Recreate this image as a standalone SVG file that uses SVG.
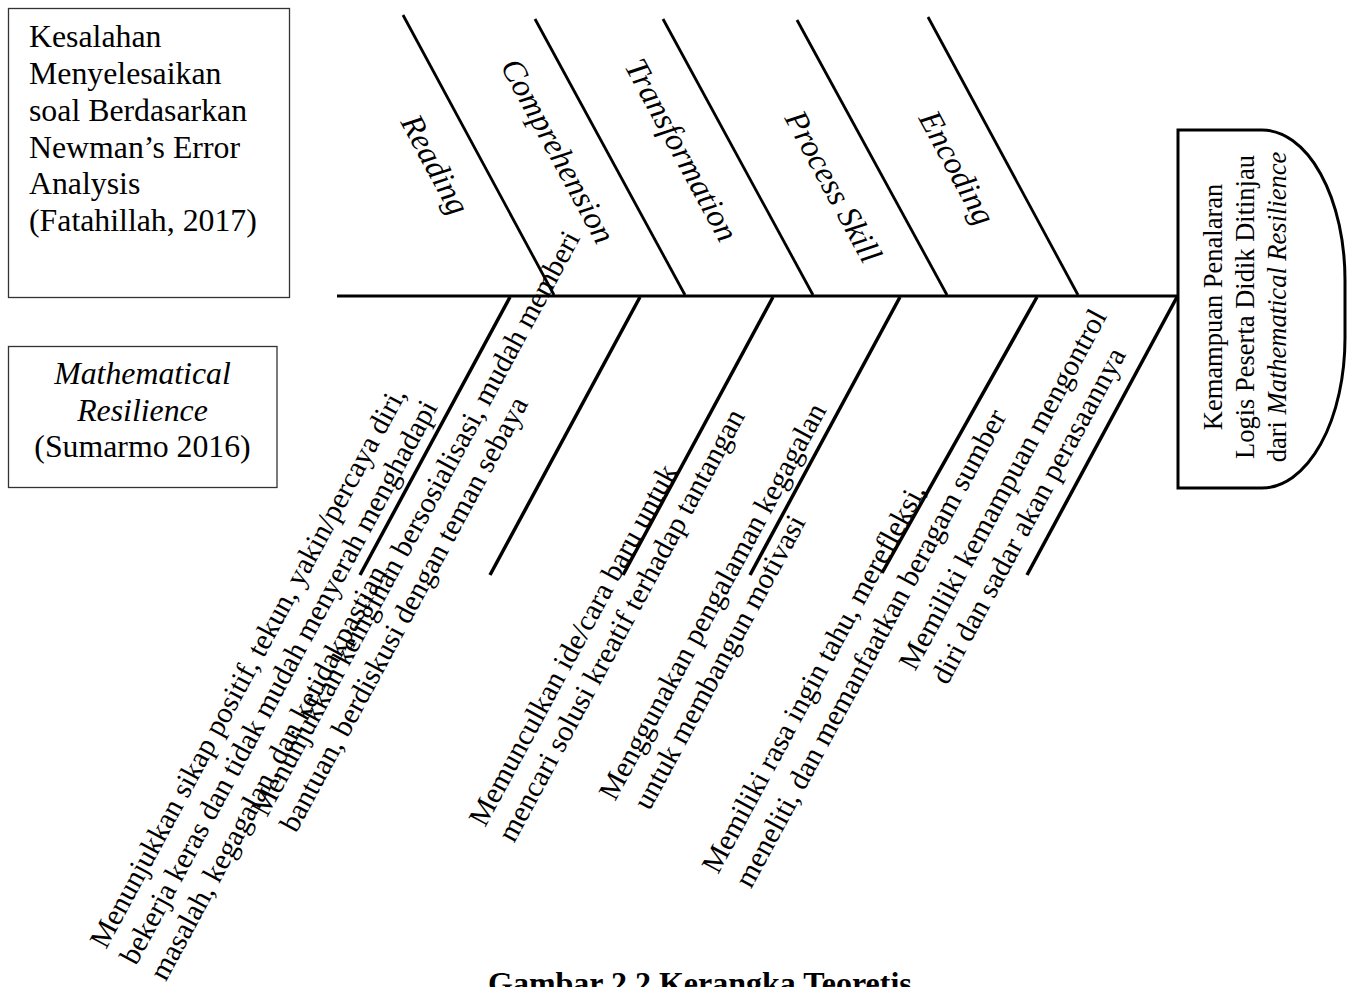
<svg xmlns="http://www.w3.org/2000/svg" width="1354" height="987" viewBox="0 0 1354 987">
<style>
text{font-family:"Liberation Serif","Times New Roman",serif;fill:#000}
.box{fill:#fff;stroke:#333;stroke-width:1.3}
.head{fill:#fff;stroke:#000;stroke-width:3}
.spine{stroke:#000;stroke-width:3;fill:none}
.ub{stroke:#000;stroke-width:2.8;fill:none}
.lb{stroke:#000;stroke-width:3.5;fill:none}
.bt{font-size:31.8px}
.cat{font-size:32.5px;font-style:italic}
.cause{font-size:29.5px}
.ht{font-size:26.5px}
.cap{font-size:32px;font-weight:bold}
</style>
<rect width="1354" height="987" fill="#fff"/>
<g id="connectors">
<line class="spine" x1="337" y1="296" x2="1178" y2="296"/>
<line class="ub" x1="403" y1="15" x2="554" y2="295"/>
<line class="ub" x1="535" y1="19" x2="685" y2="295"/>
<line class="ub" x1="663" y1="19" x2="813" y2="295"/>
<line class="ub" x1="797" y1="20" x2="947" y2="295"/>
<line class="ub" x1="928" y1="17" x2="1078" y2="295"/>
<line class="lb" x1="510" y1="297" x2="360" y2="575"/>
<line class="lb" x1="640" y1="297" x2="490" y2="575"/>
<line class="lb" x1="773" y1="297" x2="623" y2="575"/>
<line class="lb" x1="900" y1="297" x2="750" y2="575"/>
<line class="lb" x1="1037" y1="297" x2="882" y2="573"/>
<line class="lb" x1="1177" y1="297" x2="1027" y2="575"/>
</g>
<g id="node-newman">
<rect class="box" x="8.5" y="8.5" width="281" height="289"/>
<text class="bt" x="29"><tspan x="29" y="46.5">Kesalahan</tspan><tspan x="29" y="83.5">Menyelesaikan</tspan><tspan x="29" y="120.5">soal Berdasarkan</tspan><tspan x="29" y="157.5">Newman’s Error</tspan><tspan x="29" y="194">Analysis</tspan><tspan x="29" y="231">(Fatahillah, 2017)</tspan></text>
</g>
<g id="node-resilience">
<rect class="box" x="8.5" y="346.5" width="268.5" height="141"/>
<text class="bt" text-anchor="middle"><tspan x="142.5" y="384" font-style="italic">Mathematical</tspan><tspan x="142.5" y="421" font-style="italic">Resilience</tspan><tspan x="142.5" y="457">(Sumarmo 2016)</tspan></text>
</g>
<g id="node-head">
<path class="head" d="M1178,130 L1262,130 A83,150 0 0 1 1345,280 L1345,338 A83,150 0 0 1 1262,488 L1178,488 Z"/>
<text class="ht" text-anchor="middle" transform="translate(1222,307) rotate(-90)"><tspan x="0" y="0">Kemampuan Penalaran</tspan><tspan x="0" y="32">Logis Peserta Didik Ditinjau</tspan><tspan x="0" y="64">dari <tspan font-style="italic">Mathematical Resilience</tspan></tspan></text>
</g>
<g id="node-reading"><text class="cat" transform="translate(400,122) rotate(61.6)">Reading</text></g>
<g id="node-comprehension"><text class="cat" transform="translate(500,66) rotate(61.6)">Comprehension</text></g>
<g id="node-transformation"><text class="cat" transform="translate(624,66) rotate(61.6)">Transformation</text></g>
<g id="node-process"><text class="cat" transform="translate(784,118) rotate(61.6)">Process Skill</text></g>
<g id="node-encoding"><text class="cat" transform="translate(918,118) rotate(61.6)">Encoding</text></g>
<g id="node-cause1"><text class="cause" transform="translate(106,950) rotate(-61.6)"><tspan x="0" y="0">Menunjukkan sikap positif, tekun, yakin/percaya diri,</tspan><tspan x="0" y="34">bekerja keras dan tidak mudah menyerah menghadapi</tspan><tspan x="0" y="68">masalah, kegagalan, dan ketidakpastian</tspan></text></g>
<g id="node-cause2"><text class="cause" transform="translate(267,818) rotate(-61.6)"><tspan x="0" y="0">Menunjukkan keinginan bersosialisasi, mudah memberi</tspan><tspan x="0" y="33">bantuan, berdiskusi dengan teman sebaya</tspan></text></g>
<g id="node-cause3"><text class="cause" transform="translate(485,828) rotate(-61.6)"><tspan x="0" y="0">Memunculkan ide/cara baru untuk</tspan><tspan x="0" y="33">mencari solusi kreatif terhadap tantangan</tspan></text></g>
<g id="node-cause4"><text class="cause" transform="translate(615,802) rotate(-61.6)"><tspan x="0" y="0">Menggunakan pengalaman kegagalan</tspan><tspan x="8" y="35">untuk membangun motivasi</tspan></text></g>
<g id="node-cause5"><text class="cause" transform="translate(718,875) rotate(-61.6)"><tspan x="0" y="0">Memiliki rasa ingin tahu, merefleksi,</tspan><tspan x="3" y="36">meneliti, dan memanfaatkan beragam sumber</tspan></text></g>
<g id="node-cause6"><text class="cause" transform="translate(915,672) rotate(-61.6)"><tspan x="0" y="0">Memiliki kemampuan mengontrol</tspan><tspan x="3" y="35">diri dan sadar akan perasaannya</tspan></text></g>
<g id="caption"><text class="cap" x="488" y="994">Gambar 2.2 Kerangka Teoretis</text></g>
</svg>
